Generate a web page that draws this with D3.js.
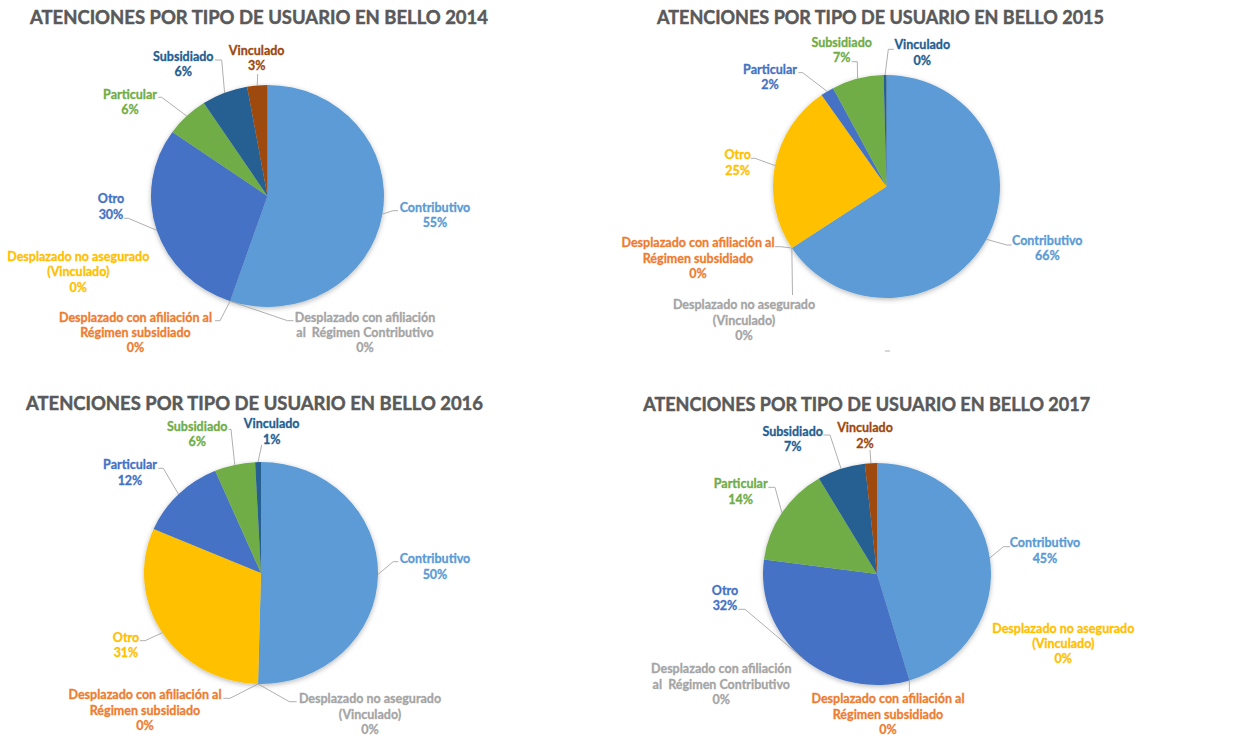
<!DOCTYPE html>
<html>
<head>
<meta charset="utf-8">
<script src="https://cdn.jsdelivr.net/npm/d3@7"></script>
<style>
  html, body { margin: 0; padding: 0; background: #ffffff; }
  svg { display: block; }
  text { font-family: Lato, "Open Sans", sans-serif; font-weight: 700; white-space: pre; }
</style>
</head>
<body>
<svg id="chart" width="1256" height="740"></svg>
<script>
// ---- Data -----------------------------------------------------------------
const titlePrefix = "ATENCIONES POR TIPO DE USUARIO EN BELLO ";
const years = ["2014", "2015", "2016", "2017"];

// Category lists (two layouts were used across the years)
const categoriesA = [
  "Contributivo",
  "Desplazado con afiliación al Régimen subsidiado",
  "Desplazado con afiliación al  Régimen Contributivo",
  "Desplazado no asegurado (Vinculado)",
  "Otro",
  "Particular",
  "Subsidiado",
  "Vinculado"
];
const categoriesB = [
  "Contributivo",
  "Desplazado con afiliación al Régimen subsidiado",
  "Desplazado no asegurado (Vinculado)",
  "Otro",
  "Particular",
  "Subsidiado",
  "Vinculado"
];

// Share of attentions (%) per category
const values2014 = [55.2, 0, 0, 0, 29.6, 6.0, 6.4, 2.8];
const values2015 = [65.7, 0, 0, 24.6, 1.9, 7.4, 0.4];
const values2016 = [50.4, 0, 0, 31.1, 12.1, 5.6, 0.8];
const values2017 = [45.4, 0, 0, 0, 31.7, 14.4, 6.8, 1.7];

// Office palette, applied by category position
const palette = ["#5B9BD5", "#ED7D31", "#A5A5A5", "#FFC000", "#4472C4", "#70AD47", "#255E91", "#9E480E"];

// How long category names are broken onto lines in the labels
const wrappedNames = {
  "Desplazado con afiliación al Régimen subsidiado": ["Desplazado con afiliación al", "Régimen subsidiado"],
  "Desplazado con afiliación al  Régimen Contributivo": ["Desplazado con afiliación", "al  Régimen Contributivo"],
  "Desplazado no asegurado (Vinculado)": ["Desplazado no asegurado", "(Vinculado)"]
};

// ---- Layout ---------------------------------------------------------------
// label: [text centre x, first baseline y, leader start x, leader start y, elbow x | null]
// (leader start null -> no leader line)
const panels = [
  {
    year: years[0], categories: categoriesA, values: values2014,
    title: { cx: 259, y: 23.5, w: 458 },
    pie: { cx: 267.5, cy: 196, rx: 116.5, ry: 111 },
    labels: [
      [435, 212, 398, 210.7, 393],
      [135.5, 321.7, 215, 320.7, 220],
      [365, 321.7, 293.5, 320.7, 287.5],
      [78.3, 261, null],
      [111, 203.3, 124, 218.3, 128.3],
      [130, 98.7, 158.3, 97.3, 161.7],
      [183.3, 61, 215, 60, 221.7],
      [256.7, 55, 257.7, 74, null]
    ]
  },
  {
    year: years[1], categories: categoriesB, values: values2015,
    title: { cx: 880.5, y: 24, w: 447 },
    pie: { cx: 886.5, cy: 186.5, rx: 113.5, ry: 111.5 },
    labels: [
      [1047.3, 245, 1011.7, 245, 1006.7],
      [698, 247.3, 775, 246.7, 780.7],
      [744, 309.3, 792.5, 295, null],
      [737.7, 159.3, 751, 158.3, 755],
      [770, 74, 798.3, 72.7, 802.7],
      [841.7, 46.7, 851.7, 61.7, 857.3],
      [922.3, 49.3, 894, 49.3, 888.3]
    ],
    stray: [885, 351, 890, 351]
  },
  {
    year: years[2], categories: categoriesB, values: values2016,
    title: { cx: 254.5, y: 410, w: 457 },
    pie: { cx: 261, cy: 573, rx: 117, ry: 111 },
    labels: [
      [435, 563.3, 398.3, 561.7, 393.3],
      [145, 699.3, 223.3, 698.3, 230],
      [370, 703.3, 296.7, 701.7, 289.3],
      [126, 641.7, 140, 640.7, 145],
      [130, 469.3, 158.3, 468.3, 163.3],
      [197.3, 430.7, 228.5, 429.3, 231],
      [271.7, 428.3, 261.7, 445, null]
    ]
  },
  {
    year: years[3], categories: categoriesA, values: values2017,
    title: { cx: 866.7, y: 410.5, w: 447 },
    pie: { cx: 877, cy: 574, rx: 114, ry: 111 },
    labels: [
      [1045, 547.3, 1010, 546.7, 1003.3],
      [888, 703.3, 909.3, 691.7, null],
      [721.3, 673.3, null],
      [1063.3, 632.7, null],
      [725, 595, 738.3, 609.3, 745],
      [740.7, 488.3, 768.3, 487.3, 775],
      [792.7, 436, 823.3, 435, 830],
      [865, 432.3, 870, 450, null]
    ]
  }
];

const labelSize = 12.5;
const lineGap = 15.3;
const leaderColor = "#A6A6A6";

// ---- Drawing --------------------------------------------------------------
const svg = d3.select("#chart");

const defs = svg.append("defs");
const shadow = defs.append("filter").attr("id", "pieShadow")
  .attr("x", "-20%").attr("y", "-20%").attr("width", "140%").attr("height", "140%");
shadow.append("feDropShadow")
  .attr("dx", 0).attr("dy", 1.5).attr("stdDeviation", 2.5)
  .attr("flood-color", "#000").attr("flood-opacity", 0.28);

const pieGen = d3.pie().sort(null).value(d => d.value).startAngle(0).endAngle(2 * Math.PI);

panels.forEach(p => {
  const g = svg.append("g");
  const rows = p.categories.map((name, i) => ({ name, value: p.values[i], color: palette[i] }));
  const total = d3.sum(rows, d => d.value);
  const arcs = pieGen(rows);

  // title
  g.append("text")
    .attr("x", p.title.cx).attr("y", p.title.y)
    .attr("text-anchor", "middle")
    .attr("font-size", 18.5)
    .attr("fill", "#595959")
    .attr("stroke", "#595959")
    .attr("stroke-width", 0.45)
    .attr("textLength", p.title.w)
    .attr("lengthAdjust", "spacingAndGlyphs")
    .text(titlePrefix + p.year);

  // pie (drawn with radius ry, stretched horizontally to rx)
  const sx = p.pie.rx / p.pie.ry;
  const arc = d3.arc().innerRadius(0).outerRadius(p.pie.ry);
  const pieG = g.append("g").attr("filter", "url(#pieShadow)")
    .append("g")
    .attr("transform", `translate(${p.pie.cx},${p.pie.cy}) scale(${sx},1)`);
  pieG.selectAll("path")
    .data(arcs.filter(a => a.value > 0))
    .join("path")
    .attr("d", arc)
    .attr("fill", a => a.data.color);

  // point on the pie rim at a slice's mid angle
  const rim = a => {
    const ang = (a.startAngle + a.endAngle) / 2;
    return [p.pie.cx + p.pie.rx * Math.sin(ang), p.pie.cy - p.pie.ry * Math.cos(ang)];
  };

  // leader lines
  const line = d3.line();
  arcs.forEach((a, i) => {
    const L = p.labels[i];
    if (L[2] == null) return;
    const pts = [[L[2], L[3]]];
    if (L[4] != null) pts.push([L[4], L[3]]);
    pts.push(rim(a));
    g.append("path")
      .attr("d", line(pts))
      .attr("fill", "none")
      .attr("stroke", leaderColor)
      .attr("stroke-width", 0.9);
  });

  if (p.stray) {
    g.append("line")
      .attr("x1", p.stray[0]).attr("y1", p.stray[1])
      .attr("x2", p.stray[2]).attr("y2", p.stray[3])
      .attr("stroke", leaderColor).attr("stroke-width", 0.9);
  }

  // data labels: category name + percentage
  arcs.forEach((a, i) => {
    const L = p.labels[i];
    const lines = (wrappedNames[a.data.name] || [a.data.name])
      .concat([Math.round(a.value / total * 100) + "%"]);
    const t = g.append("text")
      .attr("text-anchor", "middle")
      .attr("font-size", labelSize)
      .attr("fill", a.data.color)
      .attr("stroke", a.data.color)
      .attr("stroke-width", 0.3);
    lines.forEach((s, k) => {
      t.append("tspan").attr("x", L[0]).attr("y", L[1] + k * lineGap).text(s);
    });
  });
});
</script>
</body>
</html>
